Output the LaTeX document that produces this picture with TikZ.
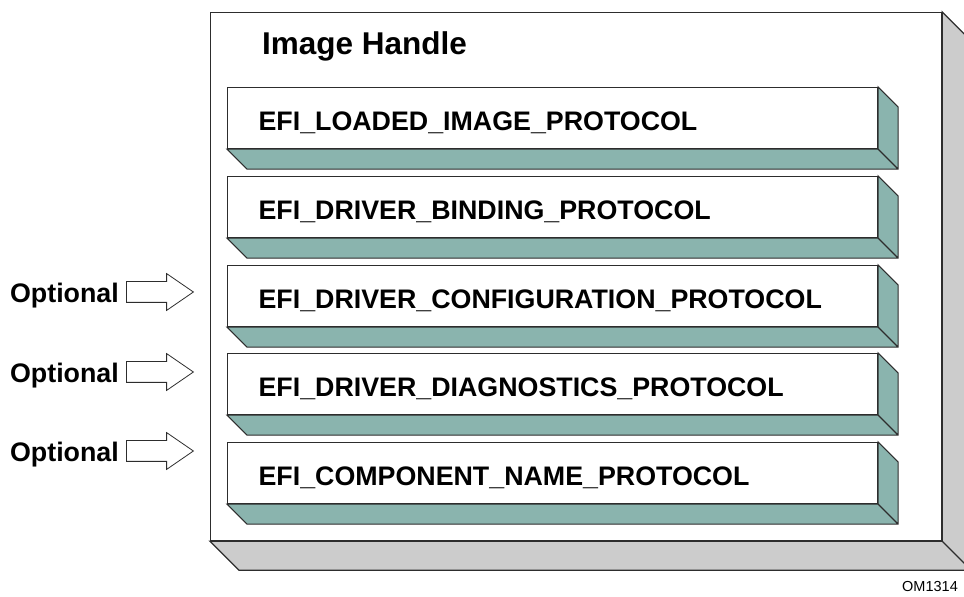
\documentclass[tikz,border=0pt]{standalone}
\usepackage{fontspec}
\setmainfont{Liberation Sans}
\usetikzlibrary{shapes.arrows, positioning, calc}
\definecolor{slabcolor}{RGB}{138, 180, 174}
\definecolor{framecolor}{RGB}{204, 204, 204}
\definecolor{edgecolor}{RGB}{45, 45, 45}

\begin{document}
\begin{tikzpicture}[
    x=1pt, y=1pt,
    handle/.style={draw=edgecolor, line width=1.3pt, fill=white, anchor=north west, minimum width=731pt, minimum height=528pt, inner sep=0pt},
    frameside/.style={draw=edgecolor, line width=1.3pt, fill=framecolor},
    protocol/.style={draw=edgecolor, line width=1.1pt, fill=white, anchor=north west, minimum height=61pt, text width=588pt, inner xsep=31pt, inner ysep=0pt, align=left, text height=25pt, text depth=0pt, font=\fontsize{26.8}{30}\selectfont\bfseries},
    slabside/.style={draw=edgecolor, line width=1.1pt, fill=slabcolor},
    optarrow/.style={single arrow, draw=edgecolor, line width=0.8pt, fill=white, anchor=tail, minimum height=67pt, inner xsep=0pt, inner ysep=10pt, single arrow head extend=8pt, single arrow tip angle=69},
    optional/.style={inner sep=0pt, text height=22pt, text depth=0pt, font=\fontsize{26.8}{30}\selectfont\bfseries}
]
    \useasboundingbox (0,0) rectangle (964,597);

    % Image handle
    \node[handle] (handle) at (210,585) {};
    \draw[frameside] (handle.north east) -- ++(29,-29) -- ($(handle.south east)+(29,-29)$) -- ($(handle.south west)+(29,-29)$) -- (handle.south west) -- (handle.south east) -- cycle
        (handle.south east) -- ++(29,-29);
    \node[font=\fontsize{31.5}{36}\selectfont\bfseries, anchor=base west, inner sep=0pt] (title) at (262,542) {Image Handle};

    % Protocols
    \node[protocol] (loaded) at (227,510) {EFI\_LOADED\_IMAGE\_PROTOCOL};
    \draw[slabside] (loaded.north east) -- ++(20,-20) -- ($(loaded.south east)+(20,-20)$) -- ($(loaded.south west)+(20,-20)$) -- (loaded.south west) -- (loaded.south east) -- cycle
        (loaded.south east) -- ++(20,-20);

    \node[protocol] (binding) at (227,421) {EFI\_DRIVER\_BINDING\_PROTOCOL};
    \draw[slabside] (binding.north east) -- ++(20,-20) -- ($(binding.south east)+(20,-20)$) -- ($(binding.south west)+(20,-20)$) -- (binding.south west) -- (binding.south east) -- cycle
        (binding.south east) -- ++(20,-20);

    \node[protocol] (config) at (227,332) {EFI\_DRIVER\_CONFIGURATION\_PROTOCOL};
    \draw[slabside] (config.north east) -- ++(20,-20) -- ($(config.south east)+(20,-20)$) -- ($(config.south west)+(20,-20)$) -- (config.south west) -- (config.south east) -- cycle
        (config.south east) -- ++(20,-20);

    \node[protocol] (diag) at (227,244) {EFI\_DRIVER\_DIAGNOSTICS\_PROTOCOL};
    \draw[slabside] (diag.north east) -- ++(20,-20) -- ($(diag.south east)+(20,-20)$) -- ($(diag.south west)+(20,-20)$) -- (diag.south west) -- (diag.south east) -- cycle
        (diag.south east) -- ++(20,-20);

    \node[protocol] (compname) at (227,155) {EFI\_COMPONENT\_NAME\_PROTOCOL};
    \draw[slabside] (compname.north east) -- ++(20,-20) -- ($(compname.south east)+(20,-20)$) -- ($(compname.south west)+(20,-20)$) -- (compname.south west) -- (compname.south east) -- cycle
        (compname.south east) -- ++(20,-20);

    % Optional markers
    \node[optarrow] (arr1) at (126,305) {};
    \node[optional, left=7pt of arr1] (opt1) {Optional};
    \node[optarrow] (arr2) at (126,225) {};
    \node[optional, left=7pt of arr2] (opt2) {Optional};
    \node[optarrow] (arr3) at (126,146) {};
    \node[optional, left=7pt of arr3] (opt3) {Optional};

    \node[font=\fontsize{14.5}{16}\selectfont, anchor=base west, inner sep=0pt] (omnum) at (902,5) {OM1314};
\end{tikzpicture}
\end{document}
